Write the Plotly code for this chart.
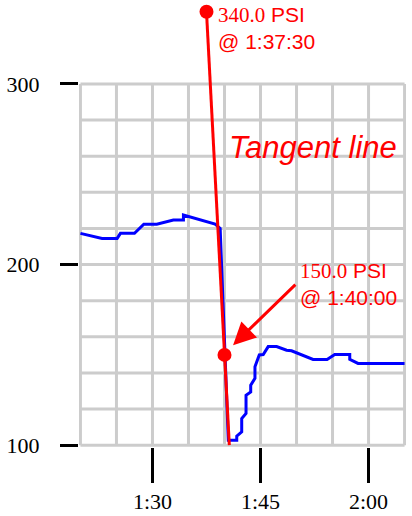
import plotly.graph_objects as go

# pressure trend (minutes since 0:00, PSI)
trend_min = [80.0, 83.0, 85.1, 85.55, 87.5, 88.8, 90.6, 92.9, 94.3, 94.3, 98.7, 99.15, 99.4,
             100.53, 101.7, 101.7, 102.39, 102.39, 102.99, 102.99, 103.64, 103.64, 104.23,
             104.23, 104.83, 105.38, 106.07, 107.24, 108.62, 109.31, 112.3, 114.24, 115.31,
             117.39, 117.39, 118.54, 125.0]
trend_psi = [217.3, 214.5, 214.5, 217.3, 217.3, 222.4, 222.4, 224.7, 224.7, 227.4, 222.4, 220.5, 220.0,
             102.8, 102.8, 105.0, 107.4, 114.8, 117.6, 127.7, 129.5, 133.2, 137.0,
             143.4, 150.0, 150.2, 154.6, 154.6, 152.6, 152.3, 147.5, 147.5, 150.2,
             150.2, 147.5, 145.3, 145.3]

# tangent line
tangent_min = [97.5, 100.67]
tangent_psi = [340, 100]
point_min = [97.5, 100.0]
point_psi = [340.0, 150.0]

grid_psi = list(range(100, 301, 20))
grid_min = list(range(80, 126, 5))
ytick_vals = [100, 200, 300]
xtick_vals = [90, 105, 120]
xtick_text = ['1:30', '1:45', '2:00']

red = '#ff0000'
serif = 'Liberation Serif'
sans = 'Liberation Sans'

fig = go.Figure()
fig.add_trace(go.Scatter(x=trend_min, y=trend_psi, mode='lines',
                         line=dict(color='#0000ff', width=3), hoverinfo='skip'))
fig.add_trace(go.Scatter(x=tangent_min, y=tangent_psi, mode='lines',
                         line=dict(color=red, width=3), hoverinfo='skip'))
fig.add_trace(go.Scatter(x=point_min, y=point_psi, mode='markers',
                         marker=dict(color=red, size=14), cliponaxis=False, hoverinfo='skip'))

# grid only over 100..300 PSI
for v in grid_psi:
    fig.add_shape(type='line', xref='x', yref='y', x0=grid_min[0], x1=grid_min[-1], y0=v, y1=v,
                  line=dict(color='#cccccc', width=3), layer='below')
for m in grid_min:
    fig.add_shape(type='line', xref='x', yref='y', x0=m, x1=m, y0=grid_psi[0], y1=grid_psi[-1],
                  line=dict(color='#cccccc', width=3), layer='below')

fig.add_annotation(x=point_min[0], y=point_psi[0], xanchor='left', yanchor='top',
                   xshift=10, yshift=11, showarrow=False, align='left',
                   text=f"<span style='font-family:{serif}'>340.0</span> PSI<br>@ 1:37:30",
                   font=dict(family=sans, size=21, color=red))
fig.add_annotation(x=100.4, y=265, xanchor='left', yanchor='middle', showarrow=False,
                   text='<i>Tangent line</i>', font=dict(family=sans, size=31, color=red))
fig.add_annotation(x=110.2, y=189.2, xanchor='left', yanchor='middle', showarrow=False, align='left',
                   text=f"<span style='font-family:{serif}'>150.0</span> PSI<br>@ 1:40:00",
                   font=dict(family=sans, size=21, color=red))
fig.add_annotation(x=101.19, y=155.4, ax=110.05, ay=189.75, axref='x', ayref='y', text='',
                   showarrow=True, arrowhead=2, arrowsize=1.5, arrowwidth=3, arrowcolor=red)

fig.update_xaxes(range=[79.8, 125.2], showgrid=False, zeroline=False, showline=False, automargin=False,
                 tickvals=xtick_vals, ticktext=xtick_text, ticks='outside', ticklen=35,
                 tickwidth=3, tickcolor='black', tickfont=dict(family=serif, size=22, color='black'))
fig.update_yaxes(range=[99, 346.5], showgrid=False, zeroline=False, showline=False, automargin=False,
                 tickvals=ytick_vals, ticks='outside', ticklen=18, tickwidth=3, tickcolor='black',
                 ticklabelstandoff=16, tickfont=dict(family=serif, size=22, color='black'))
fig.update_layout(width=412, height=516, showlegend=False,
                  plot_bgcolor='white', paper_bgcolor='white',
                  margin=dict(l=78.6, r=5.6, t=0, b=69.2))
# drop the page's default 8px body margin so the figure fills the window
fig.write_html("out.html", config={'displayModeBar': False},
               post_script="document.body.style.margin='0';")
